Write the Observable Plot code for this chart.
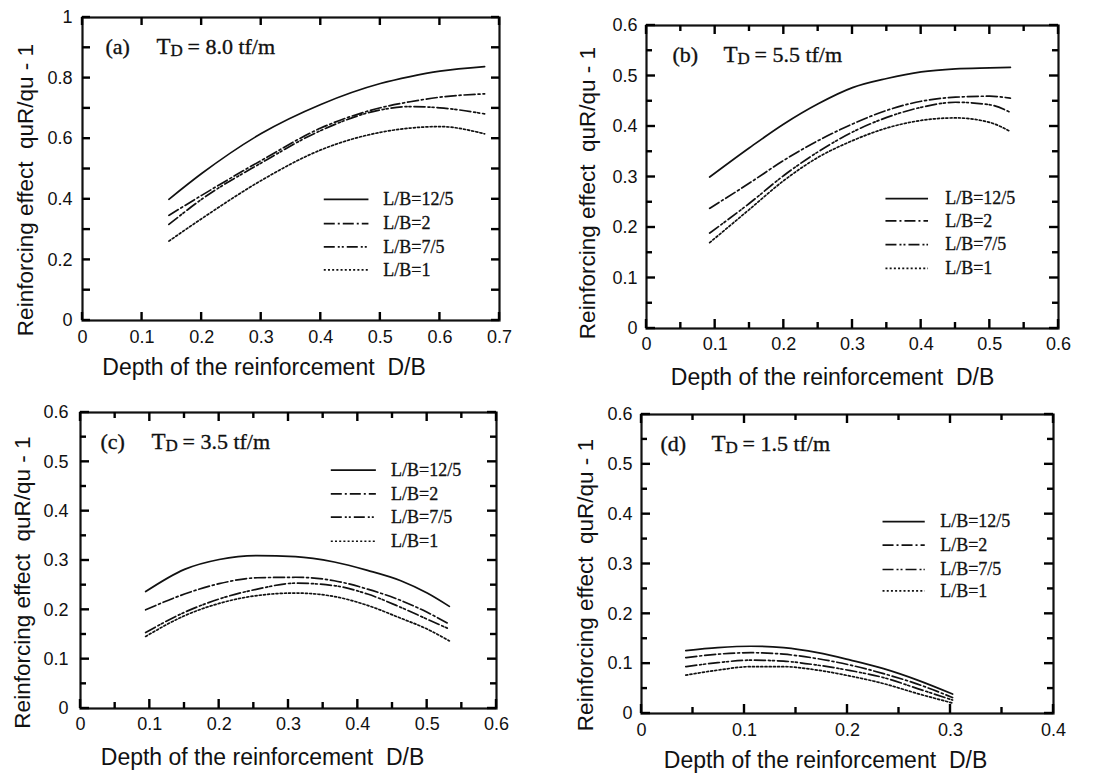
<!DOCTYPE html>
<html><head><meta charset="utf-8">
<script src="https://cdn.jsdelivr.net/npm/d3@7"></script>
<script src="https://cdn.jsdelivr.net/npm/@observablehq/plot@0.6"></script>
<style>
body{margin:0;background:#fff;}
#chart{position:relative;width:1100px;height:774px;overflow:hidden;background:#fff;}
.panel{position:absolute;}
</style></head><body><div id="chart"></div>
<script>
// ---------- data ----------
const seriesLabels = ["L/B=12/5", "L/B=2", "L/B=7/5", "L/B=1"];
const panelTags = ["(a)", "(b)", "(c)", "(d)"];
const tdTexts = ["= 8.0 tf/m", "= 5.5 tf/m", "= 3.5 tf/m", "= 1.5 tf/m"];
const xTitle = "Depth of the reinforcement\u00a0\u00a0D/B";
const yTitle = "Reinforcing effect\u00a0\u00a0quR/qu - 1";

// (a) TD = 8.0 tf/m
const aDepth = [0.145, 0.2, 0.3, 0.4, 0.5, 0.55, 0.6, 0.675];
const aLB12_5 = [0.40, 0.485, 0.617, 0.713, 0.782, 0.805, 0.823, 0.838];
const aLB2 = [0.347, 0.413, 0.528, 0.635, 0.702, 0.722, 0.737, 0.748];
const aLB7_5 = [0.317, 0.40, 0.52, 0.627, 0.695, 0.706, 0.702, 0.682];
const aLB1 = [0.262, 0.336, 0.462, 0.563, 0.621, 0.635, 0.64, 0.616];

// (b) TD = 5.5 tf/m
const bDepth = [0.092, 0.15, 0.2, 0.25, 0.3, 0.35, 0.4, 0.45, 0.5, 0.53];
const bLB12_5 = [0.30, 0.358, 0.405, 0.445, 0.477, 0.495, 0.508, 0.514, 0.516, 0.517];
const bLB2 = [0.238, 0.288, 0.333, 0.372, 0.405, 0.432, 0.45, 0.458, 0.46, 0.456];
const bLB7_5 = [0.189, 0.248, 0.303, 0.35, 0.389, 0.418, 0.438, 0.448, 0.443, 0.428];
const bLB1 = [0.170, 0.236, 0.293, 0.339, 0.372, 0.397, 0.412, 0.417, 0.408, 0.39];

// (c) TD = 3.5 tf/m
const cDepth = [0.094, 0.15, 0.2, 0.255, 0.31, 0.366, 0.414, 0.462, 0.5, 0.532];
const cLB12_5 = [0.237, 0.282, 0.302, 0.31, 0.308, 0.297, 0.28, 0.259, 0.234, 0.207];
const cLB2 = [0.2, 0.232, 0.253, 0.265, 0.266, 0.259, 0.242, 0.219, 0.195, 0.171];
const cLB7_5 = [0.154, 0.195, 0.222, 0.242, 0.254, 0.249, 0.232, 0.205, 0.181, 0.161];
const cLB1 = [0.146, 0.188, 0.213, 0.229, 0.234, 0.227, 0.209, 0.183, 0.161, 0.137];

// (d) TD = 1.5 tf/m
const dDepth = [0.043, 0.074, 0.106, 0.138, 0.171, 0.203, 0.235, 0.268, 0.302];
const dLB12_5 = [0.126, 0.132, 0.135, 0.132, 0.122, 0.107, 0.09, 0.067, 0.039];
const dLB2 = [0.112, 0.119, 0.122, 0.119, 0.11, 0.097, 0.08, 0.059, 0.032];
const dLB7_5 = [0.094, 0.102, 0.107, 0.105, 0.097, 0.086, 0.072, 0.05, 0.027];
const dLB1 = [0.077, 0.087, 0.094, 0.094, 0.087, 0.075, 0.06, 0.04, 0.021];

// tick values
const ticks07 = [0, 0.1, 0.2, 0.3, 0.4, 0.5, 0.6, 0.7];
const ticks10 = [0, 0.1, 0.2, 0.3, 0.4, 0.5, 0.6, 0.7, 0.8, 0.9, 1];
const labels10 = [0, 0.2, 0.4, 0.6, 0.8, 1];
const ticks06 = [0, 0.1, 0.2, 0.3, 0.4, 0.5, 0.6];
const minor06 = [0.05, 0.15, 0.25, 0.35, 0.45, 0.55];
const ticks04 = [0, 0.1, 0.2, 0.3, 0.4];
const minor04 = [0.05, 0.15, 0.25, 0.35];

// ---------- drawing ----------
const SANS = "'Liberation Sans', Arial, Helvetica, sans-serif";
const SERIF = "'Liberation Serif', 'Times New Roman', serif";
const dashes = [null, "11,3,2,3", "11,3,2,2,2,3", "2,2.2"];
const W = 550, H = 387;

// inward ticks on all four sides, positioned with the plot's own x / y scales
function addInwardTicks(svg, xTicks, yTicks, size) {
  const sx = svg.scale("x"), sy = svg.scale("y");
  const [x0, x1] = sx.range, [y0, y1] = sy.range;   // y0 = bottom, y1 = top
  const g = d3.select(svg).append("g").attr("aria-label", "inward ticks")
    .attr("stroke", "#000").attr("stroke-width", 2.4).attr("fill", "none");
  xTicks.forEach(v => {
    const px = sx.apply(v);
    g.append("line").attr("x1", px).attr("x2", px).attr("y1", y0).attr("y2", y0 - size);
    g.append("line").attr("x1", px).attr("x2", px).attr("y1", y1).attr("y2", y1 + size);
  });
  yTicks.forEach(v => {
    const py = sy.apply(v);
    g.append("line").attr("y1", py).attr("y2", py).attr("x1", x0).attr("x2", x0 + size);
    g.append("line").attr("y1", py).attr("y2", py).attr("x1", x1).attr("x2", x1 - size);
  });
}

function panel(cfg) {
  const [mt, mr, mb, ml] = cfg.m;
  const rows = cfg.series.flatMap((ys, k) => cfg.depth.map((d, i) => ({d, v: ys[i], k})));
  const marks = [];
  // tick labels
  marks.push(Plot.axisX({ticks: cfg.xLabels, tickSize: 0, tickPadding: cfg.xPad, tickFormat: d => String(d), label: null, fontSize: 18}));
  marks.push(Plot.axisY({ticks: cfg.yLabels, tickSize: 0, tickPadding: cfg.yPad, tickFormat: d => String(d), label: null, fontSize: 18}));
  // curves
  cfg.series.forEach((ys, k) => {
    marks.push(Plot.line(rows.filter(r => r.k === k), {
      x: "d", y: "v", curve: "monotone-x", stroke: "#111", strokeWidth: 1.7,
      strokeDasharray: dashes[k]
    }));
  });
  // legend
  seriesLabels.forEach((lab, k) => {
    marks.push(Plot.link([lab], {x1: cfg.leg.x1, x2: cfg.leg.x2, y1: cfg.leg.ys[k], y2: cfg.leg.ys[k],
      stroke: "#111", strokeWidth: 1.7, strokeDasharray: dashes[k]}));
    marks.push(Plot.text([lab], {x: cfg.leg.tx, y: cfg.leg.ys[k], text: d => d, textAnchor: "start",
      lineAnchor: "middle", fontFamily: SERIF, fontSize: 18, fill: "#111", stroke: "#111", strokeWidth: 0.3}));
  });
  // panel title: (x)  T_D = ... tf/m
  const t0 = cfg.titleDx, tb = 36;
  const tt = {frameAnchor: "top-left", text: d => d, lineAnchor: "bottom", textAnchor: "start",
    fontFamily: SERIF, fill: "#111", stroke: "#111", strokeWidth: 0.35};
  marks.push(Plot.text([cfg.tag], {...tt, dx: t0, dy: tb, fontSize: 22}));
  marks.push(Plot.text(["T"], {...tt, dx: t0 + 51, dy: tb, fontSize: 23}));
  marks.push(Plot.text(["D"], {...tt, dx: t0 + 65, dy: tb + 2, fontSize: 17}));
  marks.push(Plot.text([cfg.td], {...tt, dx: t0 + 82, dy: tb, fontSize: 22}));
  // axis titles
  marks.push(Plot.text([xTitle], {frameAnchor: "bottom", text: d => d, dx: cfg.xl[0], dy: cfg.xl[1],
    textAnchor: "middle", lineAnchor: "middle", fontFamily: SANS, fontSize: 23, fill: "#111"}));
  marks.push(Plot.text([yTitle], {frameAnchor: "left", text: d => d, rotate: -90, dx: cfg.yl[0], dy: cfg.yl[1],
    textAnchor: "middle", lineAnchor: "middle", fontFamily: SANS, fontSize: 22.5, fill: "#111"}));
  marks.push(Plot.frame({stroke: "#111", strokeWidth: 2.2}));

  const svg = Plot.plot({
    width: W, height: H,
    marginTop: mt, marginRight: mr, marginBottom: mb, marginLeft: ml,
    x: {domain: [0, cfg.xMax], label: null},
    y: {domain: [0, cfg.yMax], label: null},
    style: {fontFamily: SANS, fontSize: "18px", color: "#111", background: "transparent", overflow: "visible"},
    marks
  });
  addInwardTicks(svg, cfg.xMajor, cfg.yMajor, cfg.major);
  if (cfg.xMinor) addInwardTicks(svg, cfg.xMinor, cfg.yMinor, cfg.minor);
  const div = document.createElement("div");
  div.className = "panel";
  div.style.left = cfg.pos[0] + "px";
  div.style.top = cfg.pos[1] + "px";
  div.appendChild(svg);
  document.getElementById("chart").appendChild(div);
}

panel({
  pos: [0, 0], m: [17, 51, 67, 82], xMax: 0.7, yMax: 1,
  depth: aDepth, series: [aLB12_5, aLB2, aLB7_5, aLB1],
  xMajor: ticks07, yMajor: ticks10, xMinor: null, major: 8, minor: 5,
  xLabels: ticks07, yLabels: labels10, xPad: 10, yPad: 10,
  leg: {x1: 0.405, x2: 0.48, tx: 0.505, ys: [0.40, 0.32, 0.243, 0.167]},
  tag: panelTags[0], td: tdTexts[0], titleDx: 23,
  xl: [-27, 47], yl: [-57, 21]
});
panel({
  pos: [550, 0], m: [25, 42, 59, 96], xMax: 0.6, yMax: 0.6,
  depth: bDepth, series: [bLB12_5, bLB2, bLB7_5, bLB1],
  xMajor: ticks06, yMajor: ticks06, xMinor: minor06, yMinor: minor06, major: 9, minor: 6,
  xLabels: ticks06, yLabels: ticks06, xPad: 9, yPad: 9,
  leg: {x1: 0.348, x2: 0.41, tx: 0.435, ys: [0.257, 0.213, 0.166, 0.119]},
  tag: panelTags[1], td: tdTexts[1], titleDx: 26,
  xl: [-20, 49], yl: [-59, 16]
});
panel({
  pos: [0, 387], m: [25, 54, 66, 80], xMax: 0.6, yMax: 0.6,
  depth: cDepth, series: [cLB12_5, cLB2, cLB7_5, cLB1],
  xMajor: ticks06, yMajor: ticks06, xMinor: minor06, yMinor: minor06, major: 9, minor: 6,
  xLabels: ticks06, yLabels: ticks06, xPad: 9, yPad: 12,
  leg: {x1: 0.361, x2: 0.426, tx: 0.448, ys: [0.483, 0.435, 0.388, 0.339]},
  tag: panelTags[2], td: tdTexts[2], titleDx: 20,
  xl: [-26, 49], yl: [-58, 22]
});
panel({
  pos: [550, 387], m: [27, 47, 61, 91], xMax: 0.4, yMax: 0.6,
  depth: dDepth, series: [dLB12_5, dLB2, dLB7_5, dLB1],
  xMajor: ticks04, yMajor: ticks06, xMinor: minor04, yMinor: minor06, major: 9, minor: 6,
  xLabels: ticks04, yLabels: ticks06, xPad: 10, yPad: 9,
  leg: {x1: 0.234, x2: 0.275, tx: 0.29, ys: [0.385, 0.338, 0.289, 0.246]},
  tag: panelTags[3], td: tdTexts[3], titleDx: 19,
  xl: [-22, 47], yl: [-56, 21]
});
</script></body></html>
